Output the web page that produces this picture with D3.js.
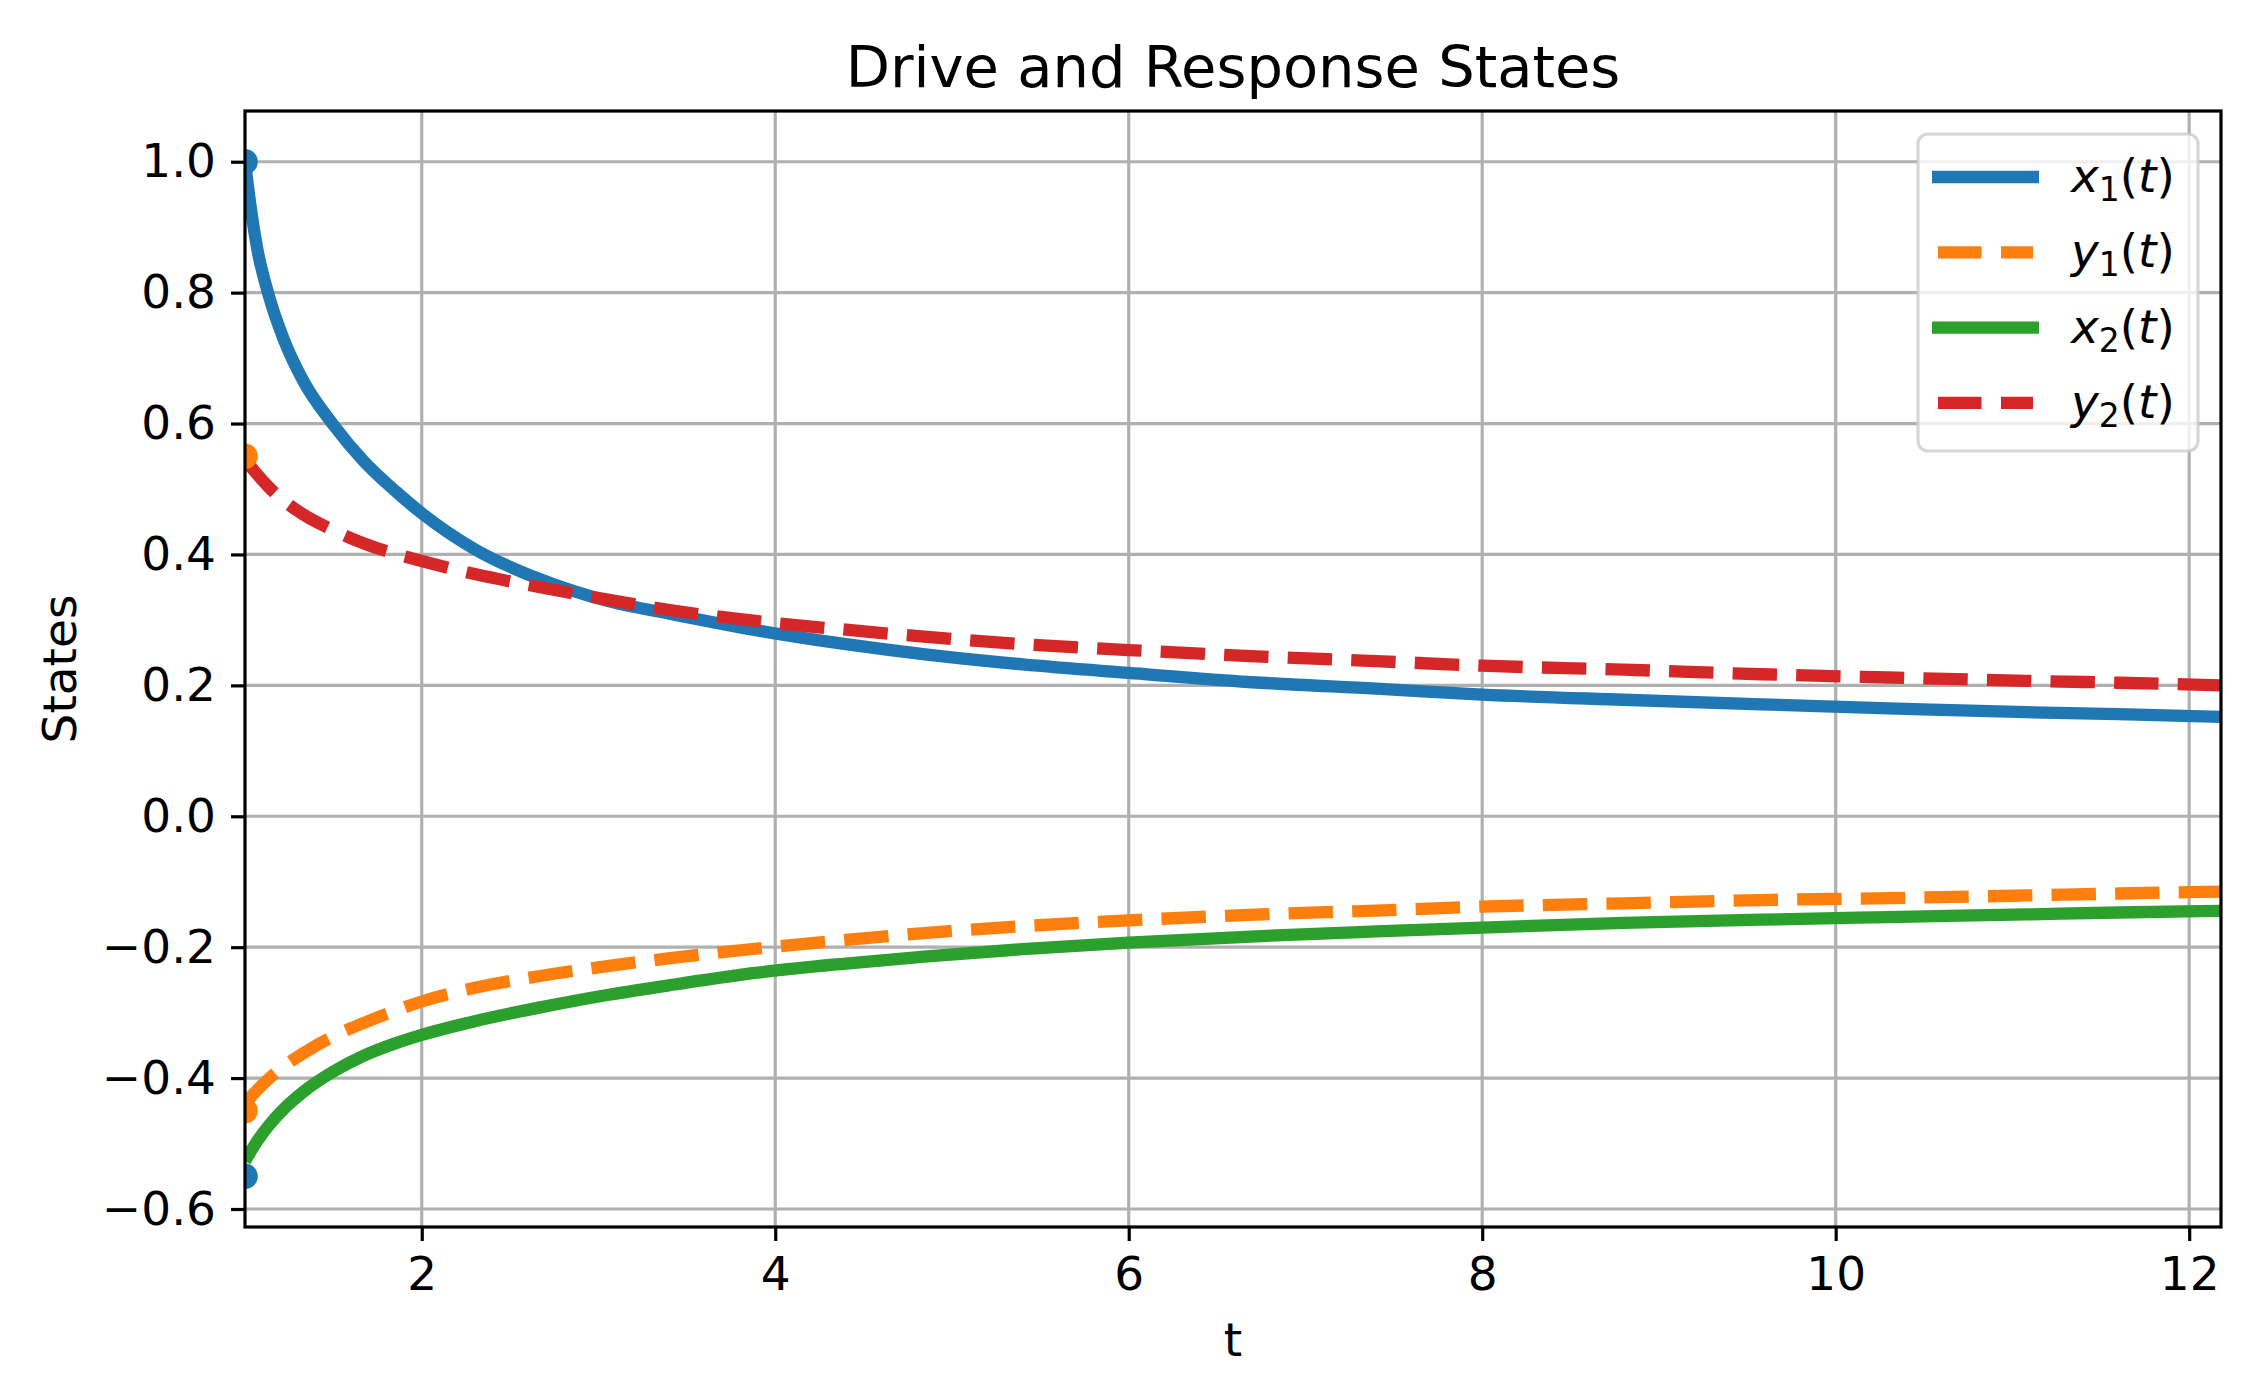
<!DOCTYPE html>
<html>
<head>
<meta charset="utf-8">
<script src="https://cdn.jsdelivr.net/npm/d3@7"></script>
<style>
  html, body { margin: 0; padding: 0; background: #fff; }
  svg { display: block; font-family: "DejaVu Sans", sans-serif; }
</style>
</head>
<body>
<svg id="chart" width="2260" height="1391"></svg>
<script>
// sample times (t)
const tGrid = [1, 1.03, 1.07, 1.13, 1.22, 1.33, 1.5, 1.67, 1.85, 2, 2.3, 2.67, 3.05, 3.43, 3.9,
               4.4, 4.86, 5.4, 6, 6.75, 7.4, 8, 8.8, 9.58, 10.3, 11.08, 11.6, 12.18];

// drive states
const x1Vals = [1.0, 0.935, 0.866, 0.80, 0.728, 0.665, 0.598, 0.543, 0.497, 0.463, 0.408, 0.362, 0.329, 0.308, 0.284,
                0.263, 0.247, 0.232, 0.219, 0.204, 0.195, 0.186, 0.178, 0.171, 0.165, 0.159, 0.156, 0.152];
const x2Vals = [-0.527, -0.513, -0.496, -0.474, -0.447, -0.421, -0.390, -0.366, -0.347, -0.334, -0.313, -0.292, -0.273, -0.257, -0.239,
                -0.225, -0.214, -0.203, -0.193, -0.183, -0.176, -0.170, -0.163, -0.158, -0.154, -0.150, -0.147, -0.1445];
// response states
const y1Vals = [-0.442, -0.430, -0.418, -0.402, -0.382, -0.362, -0.336, -0.316, -0.297, -0.283, -0.262, -0.244, -0.229, -0.216, -0.202,
                -0.189, -0.178, -0.168, -0.159, -0.150, -0.144, -0.138, -0.133, -0.128, -0.125, -0.121, -0.118, -0.115];
const y2Vals = [0.545, 0.535, 0.522, 0.504, 0.482, 0.461, 0.437, 0.417, 0.401, 0.39, 0.370, 0.350, 0.331, 0.314, 0.298,
                0.285, 0.274, 0.263, 0.254, 0.244, 0.237, 0.230, 0.224, 0.217, 0.212, 0.207, 0.204, 0.200];

// initial conditions shown as dots at t0
const t0 = 1;
const xInit = [1.0, -0.55];
const yInit = [0.55, -0.45];

const xTicks = [2, 4, 6, 8, 10, 12];
const yTicks = [-0.6, -0.4, -0.2, 0.0, 0.2, 0.4, 0.6, 0.8, 1.0];

const series = [
  {base: "x", sub: "1", values: x1Vals, color: "#1f77b4", dashed: false},
  {base: "y", sub: "1", values: y1Vals, color: "#ff7f0e", dashed: true},
  {base: "x", sub: "2", values: x2Vals, color: "#2ca02c", dashed: false},
  {base: "y", sub: "2", values: y2Vals, color: "#d62728", dashed: true}
];

const W = 2260, H = 1391;
const margin = {left: 245, right: 39, top: 111, bottom: 164};
const fs = 47;
const lw = 12.3;
const dash = "44.4,19.2";

const svg = d3.select("#chart");

const x = d3.scaleLinear()
    .domain([t0, 12.18])
    .range([margin.left, W - margin.right]);

// matplotlib style 5% margins around the data range
const yMin = -0.55, yMax = 1.0, pad = (yMax - yMin) * 0.05;
const y = d3.scaleLinear()
    .domain([yMin - pad, yMax + pad])
    .range([H - margin.bottom, margin.top]);

const plotW = W - margin.left - margin.right;
const plotH = H - margin.top - margin.bottom;

svg.append("defs").append("clipPath").attr("id", "plotclip")
  .append("rect")
    .attr("x", margin.left).attr("y", margin.top)
    .attr("width", plotW).attr("height", plotH);

// grid
const grid = svg.append("g").attr("class", "grid");
grid.selectAll("line.gx").data(xTicks).join("line")
    .attr("x1", d => x(d)).attr("x2", d => x(d))
    .attr("y1", margin.top).attr("y2", H - margin.bottom)
    .attr("stroke", "#b0b0b0").attr("stroke-width", 3.2);
grid.selectAll("line.gy").data(yTicks).join("line")
    .attr("y1", d => y(d)).attr("y2", d => y(d))
    .attr("x1", margin.left).attr("x2", W - margin.right)
    .attr("stroke", "#b0b0b0").attr("stroke-width", 3.2);

// curves
const line = d3.line()
    .x((d, i) => x(tGrid[i]))
    .y(d => y(d))
    .curve(d3.curveMonotoneX);

const plot = svg.append("g").attr("clip-path", "url(#plotclip)");

plot.selectAll("path.series").data(series).join("path")
    .attr("class", "series")
    .attr("d", d => line(d.values))
    .attr("fill", "none")
    .attr("stroke", d => d.color)
    .attr("stroke-width", lw)
    .attr("stroke-dasharray", d => d.dashed ? dash : null);

// initial condition dots
plot.selectAll("circle.xinit").data(xInit).join("circle")
    .attr("cx", x(t0)).attr("cy", d => y(d)).attr("r", 12.8)
    .attr("fill", "#1f77b4");
plot.selectAll("circle.yinit").data(yInit).join("circle")
    .attr("cx", x(t0)).attr("cy", d => y(d)).attr("r", 12.8)
    .attr("fill", "#ff7f0e");

// axes
const xAxis = svg.append("g")
    .attr("transform", `translate(0,${H - margin.bottom})`)
    .call(d3.axisBottom(x).tickValues(xTicks).tickFormat(d3.format("d")).tickSize(14).tickPadding(16));
const yAxis = svg.append("g")
    .attr("transform", `translate(${margin.left},0)`)
    .call(d3.axisLeft(y).tickValues(yTicks).tickFormat(d3.format(".1f")).tickSize(14).tickPadding(15));

[xAxis, yAxis].forEach(ax => {
  ax.select(".domain").remove();
  ax.selectAll(".tick line").attr("stroke", "#000").attr("stroke-width", 3.2);
  ax.selectAll(".tick text")
      .attr("fill", "#000")
      .style("font-family", "'DejaVu Sans'")
      .style("font-size", fs + "px");
});

// spines
svg.append("rect")
    .attr("x", margin.left).attr("y", margin.top)
    .attr("width", plotW).attr("height", plotH)
    .attr("fill", "none").attr("stroke", "#000").attr("stroke-width", 3.2);

// labels
svg.append("text")
    .attr("x", margin.left + plotW / 2).attr("y", 87)
    .attr("text-anchor", "middle")
    .style("font-size", "57.5px")
    .text("Drive and Response States");

svg.append("text")
    .attr("x", margin.left + plotW / 2).attr("y", 1356)
    .attr("text-anchor", "middle")
    .style("font-size", fs + "px")
    .text("t");

svg.append("text")
    .attr("transform", `translate(76,${margin.top + plotH / 2}) rotate(-90)`)
    .attr("text-anchor", "middle")
    .style("font-size", fs + "px")
    .text("States");

// legend
const legend = svg.append("g").attr("class", "legend");
legend.append("rect")
    .attr("x", 1918).attr("y", 134)
    .attr("width", 280).attr("height", 317)
    .attr("rx", 10).attr("ry", 10)
    .attr("fill", "#fff").attr("fill-opacity", 0.8)
    .attr("stroke", "#cccccc").attr("stroke-opacity", 0.8).attr("stroke-width", 3.2);

const rowY = i => 177 + i * 75.3;

const item = legend.selectAll("g.item").data(series).join("g")
    .attr("class", "item")
    .attr("transform", (d, i) => `translate(0,${rowY(i)})`);

item.append("line")
    .attr("x1", d => d.dashed ? 1938 : 1932)
    .attr("x2", d => d.dashed ? 2033 : 2039)
    .attr("y1", 0).attr("y2", 0)
    .attr("stroke", d => d.color)
    .attr("stroke-width", lw)
    .attr("stroke-dasharray", d => d.dashed ? "43.5,19.5" : null);

const label = item.append("text")
    .attr("x", 2071).attr("y", 15)
    .style("font-size", fs + "px");
label.append("tspan").style("font-style", "italic").text(d => d.base);
label.append("tspan")
    .style("font-size", (fs * 0.7) + "px")
    .attr("dy", 9)
    .text(d => d.sub);
label.append("tspan").attr("dy", -9).text("(");
label.append("tspan").style("font-style", "italic").text("t");
label.append("tspan").text(")");
</script>
</body>
</html>
